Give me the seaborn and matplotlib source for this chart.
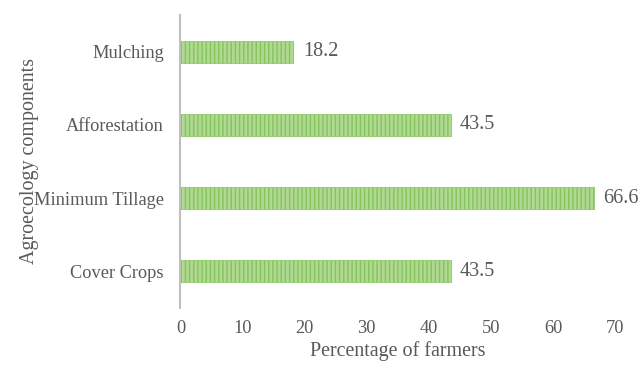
import pandas as pd
import seaborn as sns
import matplotlib.pyplot as plt

# data
components = ['Mulching', 'Afforestation', 'Minimum Tillage', 'Cover Crops']
percent = [18.2, 43.5, 66.6, 43.5]

df = pd.DataFrame({'component': components, 'percent': percent})

sns.set_theme(style='white')
plt.rcParams['font.family'] = ['Liberation Serif', 'DejaVu Serif']
txt = '#595959'

fig = plt.figure(figsize=(6.4, 3.67), dpi=100)
ax = fig.add_axes([0.282, 0.161, 0.679, 0.798])

sns.barplot(data=df, x='percent', y='component', order=components,
            color='#b0da92', width=0.3, saturation=1.0, ax=ax)

plt.rcParams['hatch.linewidth'] = 0.8
for bar in ax.patches:
    bar.set_hatch('||||')
    bar.set_edgecolor('#86c35e')
    bar.set_linewidth(0.5)

# value labels
for bar, v in zip(ax.patches, percent):
    ax.text(bar.get_width() + 1.5, bar.get_y() + bar.get_height() / 2, f'{v:.1f}',
            va='center', ha='left', fontsize=14.5, color=txt)

ax.set_xlim(0, 70)
ax.set_ylim(3.5, -0.5)
ax.set_xticks(range(0, 71, 10))
ax.tick_params(axis='y', length=0, labelsize=13.2, labelcolor=txt, pad=12)
ax.tick_params(axis='x', length=0, labelsize=13.2, labelcolor=txt, pad=9)
ax.set_xlabel('Percentage of farmers', fontsize=14.4, color=txt, labelpad=3)
ax.set_ylabel('Agroecology components', fontsize=14.4, color=txt, labelpad=-4)

for s in ['top', 'right', 'bottom']:
    ax.spines[s].set_visible(False)
ax.spines['left'].set_color('#bfbfbf')
ax.spines['left'].set_linewidth(1.5)

fig.savefig('out.png', dpi=100)
